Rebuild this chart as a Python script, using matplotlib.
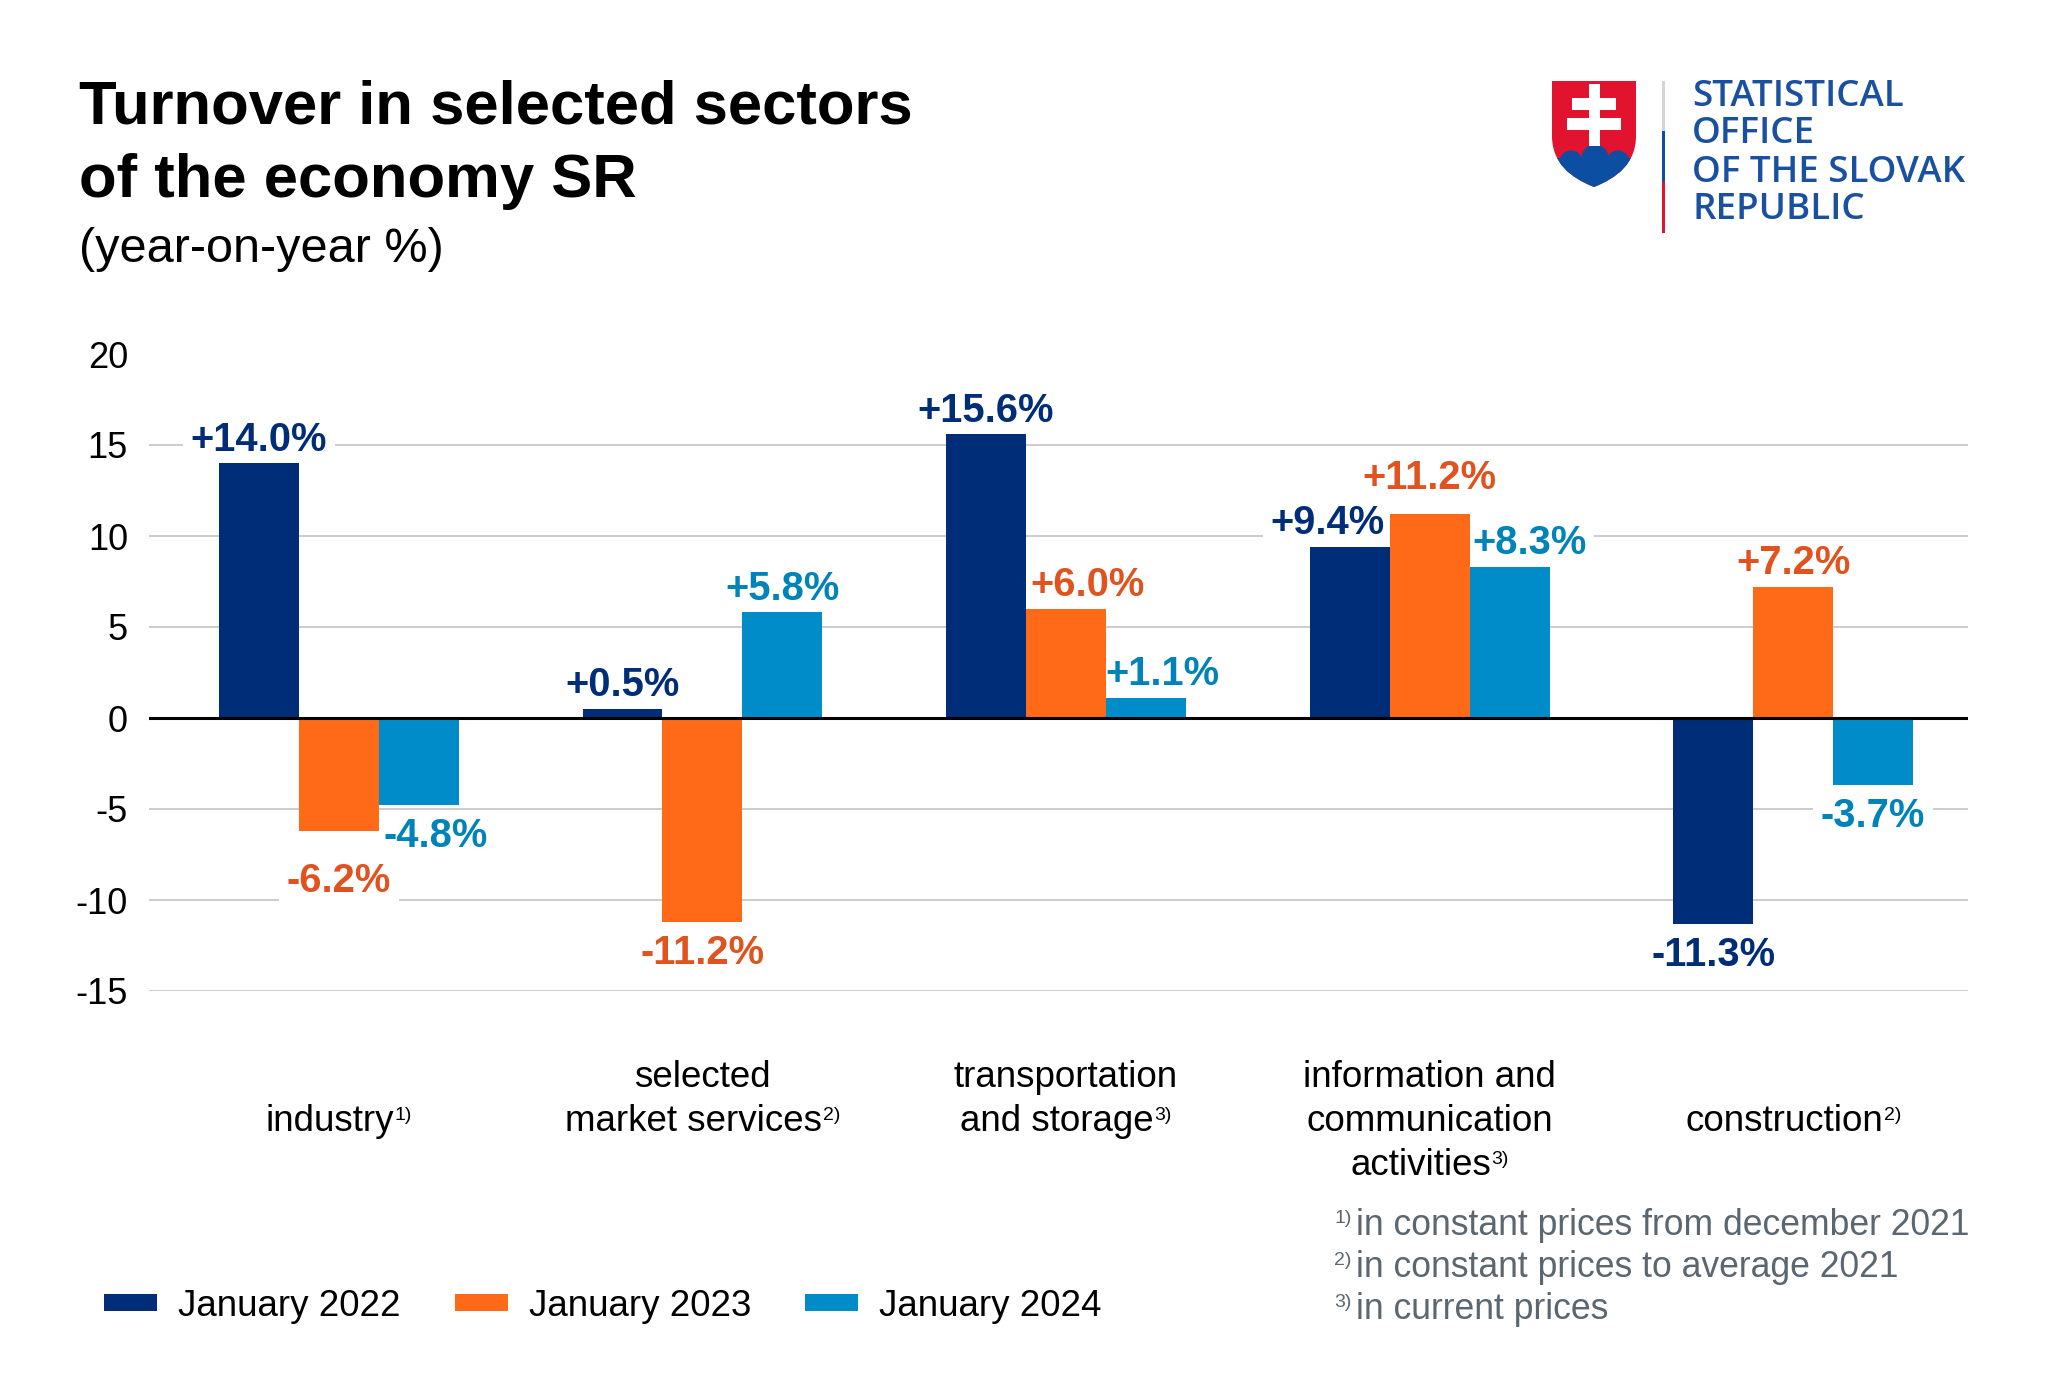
import matplotlib
matplotlib.use("Agg")
import matplotlib.pyplot as plt
from matplotlib.patches import Patch, Rectangle, Circle, PathPatch
from matplotlib.path import Path

# ---------------- data ----------------
categories = ["industry", "selected\nmarket services", "transportation\nand storage",
              "information and\ncommunication\nactivities", "construction"]
category_notes = ["1)", "2)", "3)", "3)", "2)"]
series_names = ["January 2022", "January 2023", "January 2024"]
jan_2022 = [14.0, 0.5, 15.6, 9.4, -11.3]
jan_2023 = [-6.2, -11.2, 6.0, 11.2, 7.2]
jan_2024 = [-4.8, 5.8, 1.1, 8.3, -3.7]
y_ticks = [-15, -10, -5, 0, 5, 10, 15, 20]
footnote_marks = ["1)", "2)", "3)"]
footnote_texts = ["in constant prices from december 2021",
                  "in constant prices to average 2021",
                  "in current prices"]
title_lines = ["Turnover in selected sectors", "of the economy SR"]
subtitle = "(year-on-year %)"
logo_lines = ["STATISTICAL", "OFFICE", "OF THE SLOVAK", "REPUBLIC"]

# ---------------- style ----------------
FONT = "Liberation Sans"
plt.rcParams["font.family"] = [FONT, "DejaVu Sans"]
bar_colors = ["#002D78", "#FF6A18", "#008CC8"]
label_colors = ["#002D78", "#E0531F", "#0083B8"]
foot_color = "#5B6770"
logo_blue = "#1A50A0"
logo_red = "#E1132E"
shield_blue = "#0B4EA2"

W, H = 2048, 1396
fig = plt.figure(figsize=(W / 100, H / 100), dpi=100)

# main axes (pixel geometry of the reference)
x0, x1, ytop, ybot = 148.8, 1968.0, 354.0, 991.0
ax = fig.add_axes([x0 / W, (H - ybot) / H, (x1 - x0) / W, (ybot - ytop) / H])
ax.set_xlim(-0.523, 4.481)
ax.set_ylim(-15, 20)
ax.set_yticks(y_ticks)
ax.set_yticklabels([str(t) for t in y_ticks], fontsize=26)
ax.tick_params(axis="y", length=0, pad=15)
ax.set_xticks([])
for s in ax.spines.values():
    s.set_visible(False)
ax.set_axisbelow(True)
ax.yaxis.grid(True, color="#BFBFBF", lw=1.1)
for tv, gl in zip(y_ticks, ax.get_ygridlines()):
    if tv == max(y_ticks):
        gl.set_visible(False)
ax.axhline(0, color="black", lw=2.2, zorder=4)

series = [jan_2022, jan_2023, jan_2024]
bw = 0.22
# label nudges (pixels): (dx, extra distance from bar)
nudge = {(0, 1): (0, 19), (0, 2): (17, 0), (2, 1): (21, 0), (2, 2): (16, 0),
         (3, 0): (-22, 0), (3, 1): (0, 13), (3, 2): (20, 0)}
for k, vals in enumerate(series):
    xs = [i + (k - 1) * bw for i in range(len(categories))]
    ax.bar(xs, vals, width=bw, color=bar_colors[k], zorder=3, linewidth=0)
    for i, (x, v) in enumerate(zip(xs, vals)):
        dx, extra = nudge.get((i, k), (0, 0))
        txt = f"{v:+.1f}%"
        if v >= 0:
            off = (dx, 12.5 + extra)
            va = "baseline"
        else:
            off = (dx, -(12 + extra))
            va = "top"
        ax.annotate(txt, xy=(x, v), xytext=off, textcoords="offset pixels",
                    ha="center", va=va, fontsize=28.7, fontweight="bold",
                    color=label_colors[k], zorder=2,
                    bbox=dict(facecolor="white", edgecolor="none", pad=5.5))

# overlay axes in pixel coordinates (y down)
ov = fig.add_axes([0, 0, 1, 1], zorder=10)
ov.set_xlim(0, W)
ov.set_ylim(H, 0)
ov.axis("off")
ov.patch.set_alpha(0)

# title
ov.text(79, 123, title_lines[0], fontsize=44.4, fontweight="bold", va="baseline", ha="left")
ov.text(79, 197, title_lines[1], fontsize=44.4, fontweight="bold", va="baseline", ha="left")
ov.text(79, 262, subtitle, fontsize=35, va="baseline", ha="left")

# category labels with superscripts
renderer = fig.canvas.get_renderer()
MAIN_FS, SUP_FS = 26.5, 14
for i, (cat, note) in enumerate(zip(categories, category_notes)):
    cx = ax.transData.transform((i, 0))[0]
    lines = cat.split("\n")
    start = 1 if len(lines) == 1 else 0
    for j, line in enumerate(lines):
        base = 1087 + 44 * (start + j)
        if j < len(lines) - 1:
            ov.text(cx, base, line, fontsize=MAIN_FS, ha="center", va="baseline")
        else:
            tm = ov.text(0, base, line, fontsize=MAIN_FS, ha="left", va="baseline")
            ts = ov.text(0, base - 11, note, fontsize=SUP_FS, ha="left", va="baseline")
            wm = tm.get_window_extent(renderer).width
            ws = ts.get_window_extent(renderer).width
            gap = 0.5
            left = cx - (wm + gap + ws) / 2
            tm.set_x(left)
            ts.set_x(left + wm + gap)

# footnotes
for n, (mk, ft) in enumerate(zip(footnote_marks, footnote_texts)):
    base = 1235 + 42 * n
    ov.text(1334, base - 12, mk, fontsize=SUP_FS, color=foot_color, va="baseline")
    ov.text(1356, base, ft, fontsize=25.6, color=foot_color, va="baseline")

# legend
handles = [Patch(facecolor=c, edgecolor="none") for c in bar_colors]
fig.legend(handles, series_names, loc="center left", bbox_to_anchor=(104 / W, 90 / H),
           ncol=3, frameon=False, fontsize=26.5, handlelength=1.44, handleheight=0.35,
           handletextpad=0.57, columnspacing=1.47, borderpad=0, borderaxespad=0)

# ---------------- logo ----------------
verts = [(1552, 81), (1636, 81), (1636, 136),
         (1636, 163), (1617, 178), (1594, 187),
         (1571, 178), (1552, 163), (1552, 136), (1552, 81)]
codes = [Path.MOVETO, Path.LINETO, Path.LINETO,
         Path.CURVE4, Path.CURVE4, Path.CURVE4,
         Path.CURVE4, Path.CURVE4, Path.CURVE4, Path.CLOSEPOLY]
shield = PathPatch(Path(verts, codes), facecolor=logo_red, edgecolor="none", zorder=1)
ov.add_patch(shield)
hills = [Circle((1595, 158), 13.5), Circle((1571, 162), 11.5), Circle((1618, 162), 11.5),
         Rectangle((1545, 158), 100, 40)]
for h in hills:
    h.set_facecolor(shield_blue)
    h.set_edgecolor("none")
    h.set_zorder(2)
    ov.add_patch(h)
    h.set_clip_path(shield)
for (xa, ya, w, hh) in [(1588.5, 83.5, 11, 62), (1572, 97.5, 44, 12.5), (1567, 117.5, 54, 12.5)]:
    ov.add_patch(Rectangle((xa, ya), w, hh, facecolor="white", edgecolor="none", zorder=3))
# divider line
ov.add_patch(Rectangle((1661.5, 81), 3.5, 50, facecolor="#D3D6D8", edgecolor="none"))
ov.add_patch(Rectangle((1661.5, 131), 3.5, 51, facecolor=shield_blue, edgecolor="none"))
ov.add_patch(Rectangle((1661.5, 182), 3.5, 51, facecolor=logo_red, edgecolor="none"))
for line, base in zip(logo_lines, [106, 143, 182, 219]):
    ov.text(1692, base, line, fontsize=26.5, family=["Open Sans", "DejaVu Sans"],
            fontweight="semibold", color=logo_blue, va="baseline", ha="left")

fig.savefig("out.png", dpi=100)
